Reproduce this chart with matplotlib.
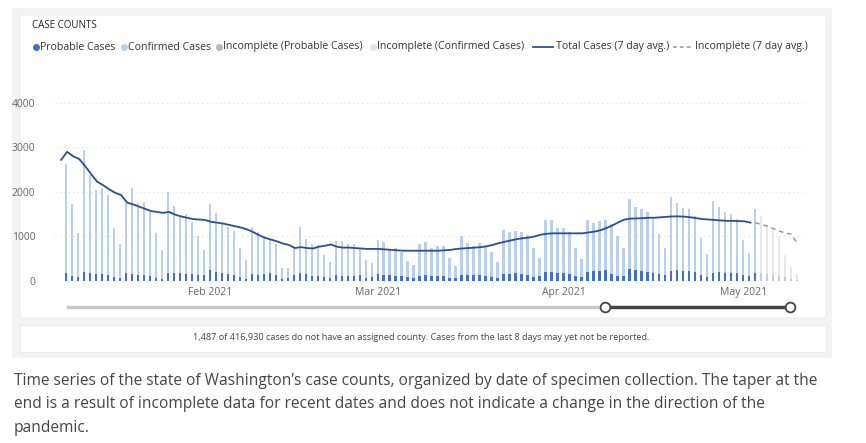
import matplotlib
matplotlib.use("Agg")
import matplotlib.pyplot as plt
from matplotlib.patches import FancyBboxPatch, Rectangle
from matplotlib.lines import Line2D
import numpy as np
import datetime as dt

plt.rcParams['font.family'] = ['Open Sans', 'DejaVu Sans']

start_date = dt.date(2021, 1, 8)
total_complete = [2630, 1730, 1070, 2940, 2370, 2050, 2080, 1920, 1190, 830, 1760, 2080, 1750, 1780, 1550, 1070,
                  690, 2000, 1680, 1450, 1510, 1330, 1000, 690, 1720, 1530, 1280, 1220, 1120, 730, 480, 1210,
                  1100, 960, 940, 830, 300, 290, 750, 1220, 940, 840, 800, 580, 420, 900, 900, 830, 820, 740,
                  480, 400, 930, 870, 720, 750, 650, 440, 360, 840, 870, 740, 780,
                  790, 525, 340, 1000, 860, 790, 860, 770, 640, 435, 1150, 1090, 1120, 1110, 1030, 735, 525,
                  1370, 1370, 1190, 1190, 1110, 750, 490, 1370, 1310, 1340, 1370, 1290, 1010, 735, 1850, 1670,
                  1610, 1540, 1390, 1065, 750, 1890, 1760, 1640, 1610, 1450, 975, 615, 1800, 1670, 1540, 1500,
                  1400, 915, 620, 1610]
total_incomplete = [1450, 1290, 1190, 1010, 585, 315, 150]
probable_complete = [190, 120, 90, 210, 180, 150, 150, 140, 80, 60, 170, 150, 130, 130, 110, 70,
                     50, 190, 170, 170, 150, 160, 140, 140, 240, 210, 190, 160, 130, 80, 50, 150,
                     140, 150, 170, 130, 50, 60, 140, 190, 150, 120, 110, 90, 60, 130, 120, 120, 120, 140,
                     60, 90, 150, 140, 130, 120, 110, 80, 60, 120, 140, 110, 120,
                     120, 70, 60, 130, 130, 130, 140, 120, 90, 70, 150, 160, 170, 160, 140, 90, 110,
                     210, 200, 190, 180, 150, 110, 100, 200, 230, 220, 240, 150, 110, 110, 260, 250,
                     220, 210, 190, 150, 140, 230, 240, 230, 220, 200, 140, 100, 190, 200, 190, 190,
                     180, 140, 110, 190]
probable_incomplete = [170, 150, 130, 120, 80, 50, 30]
avg_complete = [2720, 2900, 2800, 2740, 2580, 2400, 2230, 2150, 2060, 1980, 1930, 1760, 1720, 1670, 1620,
                1570, 1550, 1530, 1550, 1490, 1450, 1420, 1390, 1380, 1370, 1330, 1310, 1290, 1260, 1230,
                1200, 1160, 1100, 1030, 970, 930, 890, 840, 810, 740, 760, 740, 730, 770, 790, 820, 770,
                750, 750, 740, 730, 720, 720, 720, 710, 700, 690, 680, 680, 680, 680, 680,
                680, 680, 690, 700, 720, 730, 740, 750, 760, 780, 810, 850, 880, 910, 940, 960, 975, 1000,
                1040, 1060, 1070, 1070, 1070, 1070, 1070, 1070, 1090, 1110, 1140, 1190, 1250, 1320, 1380,
                1400, 1405, 1410, 1420, 1420, 1430, 1440, 1450, 1450, 1445, 1430, 1410, 1390, 1380, 1370,
                1360, 1350, 1350, 1345, 1340, 1310]
avg_incomplete = [1310, 1270, 1230, 1180, 1120, 1080, 1050, 850]
y_ticks = [0, 1000, 2000, 3000, 4000]
x_tick_labels = ["Feb 2021", "Mar 2021", "Apr 2021", "May 2021"]

W, H = 866, 443
fig = plt.figure(figsize=(W / 100, H / 100), dpi=100)
fig.patch.set_facecolor('white')

def fx(px): return px / W
def fy(py): return 1 - py / H

fig.patches.append(Rectangle((fx(12), fy(358)), fx(820), 350 / H, transform=fig.transFigure,
                             facecolor='#f3f3f3', edgecolor='none', zorder=-3))
fig.patches.append(FancyBboxPatch((fx(20), fy(318)), fx(806), 303 / H, boxstyle="round,pad=0,rounding_size=0.005",
                                  transform=fig.transFigure, facecolor='white', edgecolor='#e8e8e8', lw=0.6, zorder=-2))
fig.patches.append(Rectangle((fx(20), fy(352)), fx(806), 27 / H, transform=fig.transFigure,
                             facecolor='white', edgecolor='#e8e8e8', lw=0.6, zorder=-2))

n_c = len(total_complete)
n_i = len(total_incomplete)
x_c = np.arange(n_c)
x_i = np.arange(n_c, n_c + n_i)

ax = fig.add_axes([fx(55), fy(281), fx(750), 196 / H])
ax.set_facecolor('none')
bw = 0.38
conf_c = np.array(total_complete) - np.array(probable_complete)
conf_i = np.array(total_incomplete) - np.array(probable_incomplete)
ax.bar(x_c, probable_complete, width=bw, color='#3f72c6', zorder=2)
ax.bar(x_c, conf_c, bottom=probable_complete, width=bw, color='#b9cfee', zorder=2)
ax.bar(x_i, probable_incomplete, width=bw, color='#c9cad3', zorder=2)
ax.bar(x_i, conf_i, bottom=probable_incomplete, width=bw, color='#e6e8ee', zorder=2)
x_line = np.arange(len(avg_complete)) - 0.8
ax.plot(x_line, avg_complete, color='#2a4e8e', lw=1.3, zorder=3)
x_dash = np.arange(n_c - 1, n_c - 1 + len(avg_incomplete))
ax.plot(x_dash, avg_incomplete, color='#999999', lw=1.1, ls=(0, (3, 2.5)), zorder=3)

ax.set_xlim(-1.83, 123.3)
ax.set_ylim(0, 4400)
ax.set_yticks(y_ticks)
ax.set_yticklabels([str(v) for v in y_ticks])
tick_days = [(dt.date(2021, m, 1) - start_date).days for m in (2, 3, 4, 5)]
ax.set_xticks(tick_days)
ax.set_xticklabels(x_tick_labels)
ax.tick_params(length=0, labelsize=7.5, colors='#666666', pad=4)
ax.tick_params(axis='y', pad=14)
for s in ax.spines.values():
    s.set_visible(False)
ax.grid(axis='y', color='#dddddd', ls=(0, (1, 3)), lw=0.8, zorder=0)

fig.add_artist(Line2D([fx(68), fx(605)], [fy(307), fy(307)], color='#c8c8c8', lw=2.5))
fig.add_artist(Line2D([fx(605), fx(790)], [fy(307), fy(307)], color='#444444', lw=2.5))
for px in (605, 790):
    fig.add_artist(Line2D([fx(px)], [fy(307)], marker='o', ms=7, mfc='white', mec='#444444', mew=1.3))

fig.text(fx(32), fy(26), "CASE COUNTS", fontsize=7, color='#222222', va='center')
ly = fy(47)
items = [(36, 'dot', '#3f72c6', "Probable Cases"),
         (124, 'dot', '#b9cfee', "Confirmed Cases"),
         (219, 'dot', '#b8b9c2', "Incomplete (Probable Cases)"),
         (373, 'dot', '#e3e5ea', "Incomplete (Confirmed Cases)"),
         (533, 'line', '#2a4e8e', "Total Cases (7 day avg.)"),
         (673, 'dash', '#999999', "Incomplete (7 day avg.)")]
for px, kind, col, lab in items:
    if kind == 'dot':
        fig.add_artist(Line2D([fx(px)], [ly], marker='o', ms=4, mfc=col, mec=col))
        tx = px + 4
    elif kind == 'line':
        fig.add_artist(Line2D([fx(px), fx(px + 20)], [ly, ly], color=col, lw=1.3))
        tx = px + 23
    else:
        fig.add_artist(Line2D([fx(px), fx(px + 19)], [ly, ly], color=col, lw=1.1, ls=(0, (2.5, 2))))
        tx = px + 22
    fig.text(fx(tx), ly, lab, fontsize=7.6, color='#333333', va='center')

fig.text(fx(421), fy(337), "1,487 of 416,930 cases do not have an assigned county. Cases from the last 8 days may yet not be reported.",
         fontsize=6.6, color='#444444', ha='center', va='center')

caption = ["Time series of the state of Washington\u2019s case counts, organized by date of specimen collection. The taper at the",
           "end is a result of incomplete data for recent dates and does not indicate a change in the direction of the",
           "pandemic."]
for i, line in enumerate(caption):
    fig.text(fx(14), fy(381 + 23.5 * i), line, fontsize=11.2, color='#444444', va='center')

fig.savefig("out.png", dpi=100)
